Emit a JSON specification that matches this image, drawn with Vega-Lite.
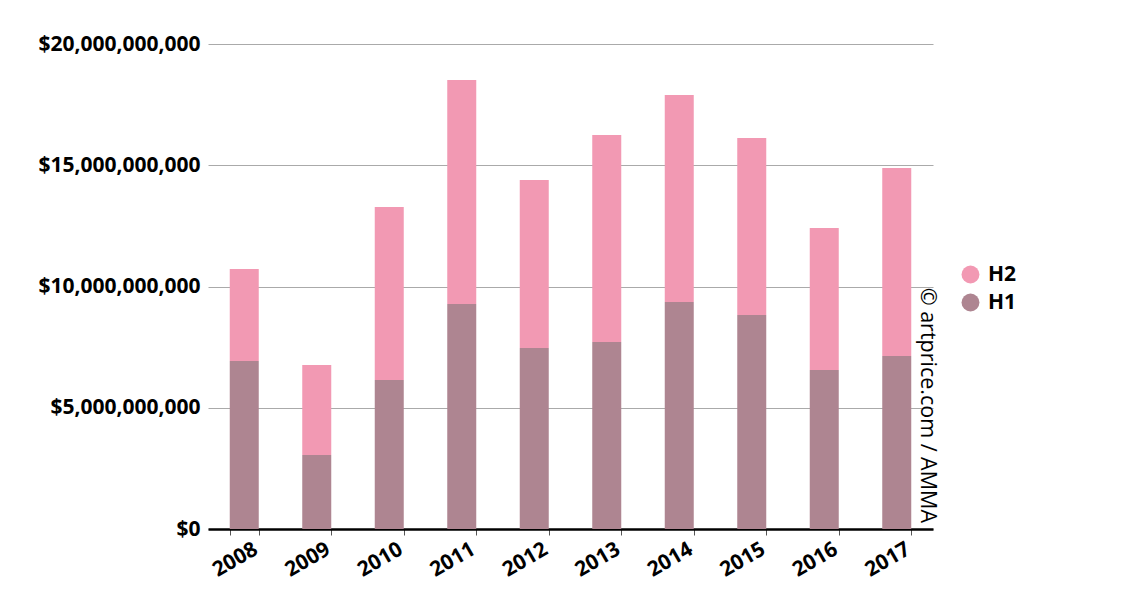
{
  "$schema": "https://vega.github.io/schema/vega-lite/v6.json",
  "width": 725,
  "height": 485,
  "padding": {"top": 33, "left": 5, "right": 5, "bottom": 5},
  "config": {
    "font": "Open Sans",
    "view": {"stroke": null}
  },
  "datasets": {
    "sales": [
      {"year": "2008", "half": "H1", "value": 6930000000},
      {"year": "2008", "half": "H2", "value": 3790000000},
      {"year": "2009", "half": "H1", "value": 3050000000},
      {"year": "2009", "half": "H2", "value": 3710000000},
      {"year": "2010", "half": "H1", "value": 6140000000},
      {"year": "2010", "half": "H2", "value": 7140000000},
      {"year": "2011", "half": "H1", "value": 9280000000},
      {"year": "2011", "half": "H2", "value": 9240000000},
      {"year": "2012", "half": "H1", "value": 7460000000},
      {"year": "2012", "half": "H2", "value": 6930000000},
      {"year": "2013", "half": "H1", "value": 7710000000},
      {"year": "2013", "half": "H2", "value": 8540000000},
      {"year": "2014", "half": "H1", "value": 9360000000},
      {"year": "2014", "half": "H2", "value": 8540000000},
      {"year": "2015", "half": "H1", "value": 8820000000},
      {"year": "2015", "half": "H2", "value": 7300000000},
      {"year": "2016", "half": "H1", "value": 6560000000},
      {"year": "2016", "half": "H2", "value": 5850000000},
      {"year": "2017", "half": "H1", "value": 7130000000},
      {"year": "2017", "half": "H2", "value": 7760000000}
    ],
    "credit": [
      {"year": "2017", "value": 0, "note": "© artprice.com / AMMA"}
    ]
  },
  "layer": [
    {
      "data": {"name": "sales"},
      "mark": {"type": "bar"},
      "encoding": {
        "x": {
          "field": "year",
          "type": "ordinal",
          "title": null,
          "scale": {"paddingInner": 0.6, "paddingOuter": 0.3},
          "axis": {
            "labelAngle": -30,
            "labelFontSize": 21,
            "labelFontWeight": "bold",
            "labelColor": "#000000",
            "labelPadding": 3,
            "labelOffset": 6,
            "tickBand": "extent",
            "tickColor": "#555555",
            "tickSize": 6,
            "domainColor": "#000000",
            "domainWidth": 2.5,
            "grid": false
          }
        },
        "y": {
          "field": "value",
          "type": "quantitative",
          "title": null,
          "stack": "zero",
          "scale": {"domain": [0, 20000000000]},
          "axis": {
            "values": [0, 5000000000, 10000000000, 15000000000, 20000000000],
            "format": "$,.0f",
            "labelFontSize": 21,
            "labelFontWeight": "bold",
            "labelColor": "#000000",
            "labelPadding": 8,
            "ticks": false,
            "domain": false,
            "gridColor": "#aaaaaa",
            "gridWidth": 1,
            "minExtent": 203,
            "maxExtent": 203
          }
        },
        "color": {
          "field": "half",
          "type": "nominal",
          "title": null,
          "scale": {"domain": ["H2", "H1"], "range": ["#f299b3", "#ae8591"]},
          "legend": {
            "orient": "none",
            "legendX": 752,
            "legendY": 220,
            "symbolType": "circle",
            "symbolSize": 320,
            "symbolStrokeWidth": 0,
            "labelFontSize": 21,
            "labelFontWeight": "bold",
            "labelColor": "#000000",
            "labelOffset": 7,
            "rowPadding": 6,
            "padding": 0
          }
        },
        "order": {"field": "half", "sort": "ascending"}
      }
    },
    {
      "data": {"name": "credit"},
      "mark": {
        "type": "text",
        "angle": 90,
        "align": "right",
        "baseline": "middle",
        "fontSize": 21.5,
        "color": "#000000",
        "dx": -6,
        "dy": -30
      },
      "encoding": {
        "x": {"field": "year", "type": "ordinal"},
        "y": {"field": "value", "type": "quantitative"},
        "text": {"field": "note"}
      }
    }
  ]
}
